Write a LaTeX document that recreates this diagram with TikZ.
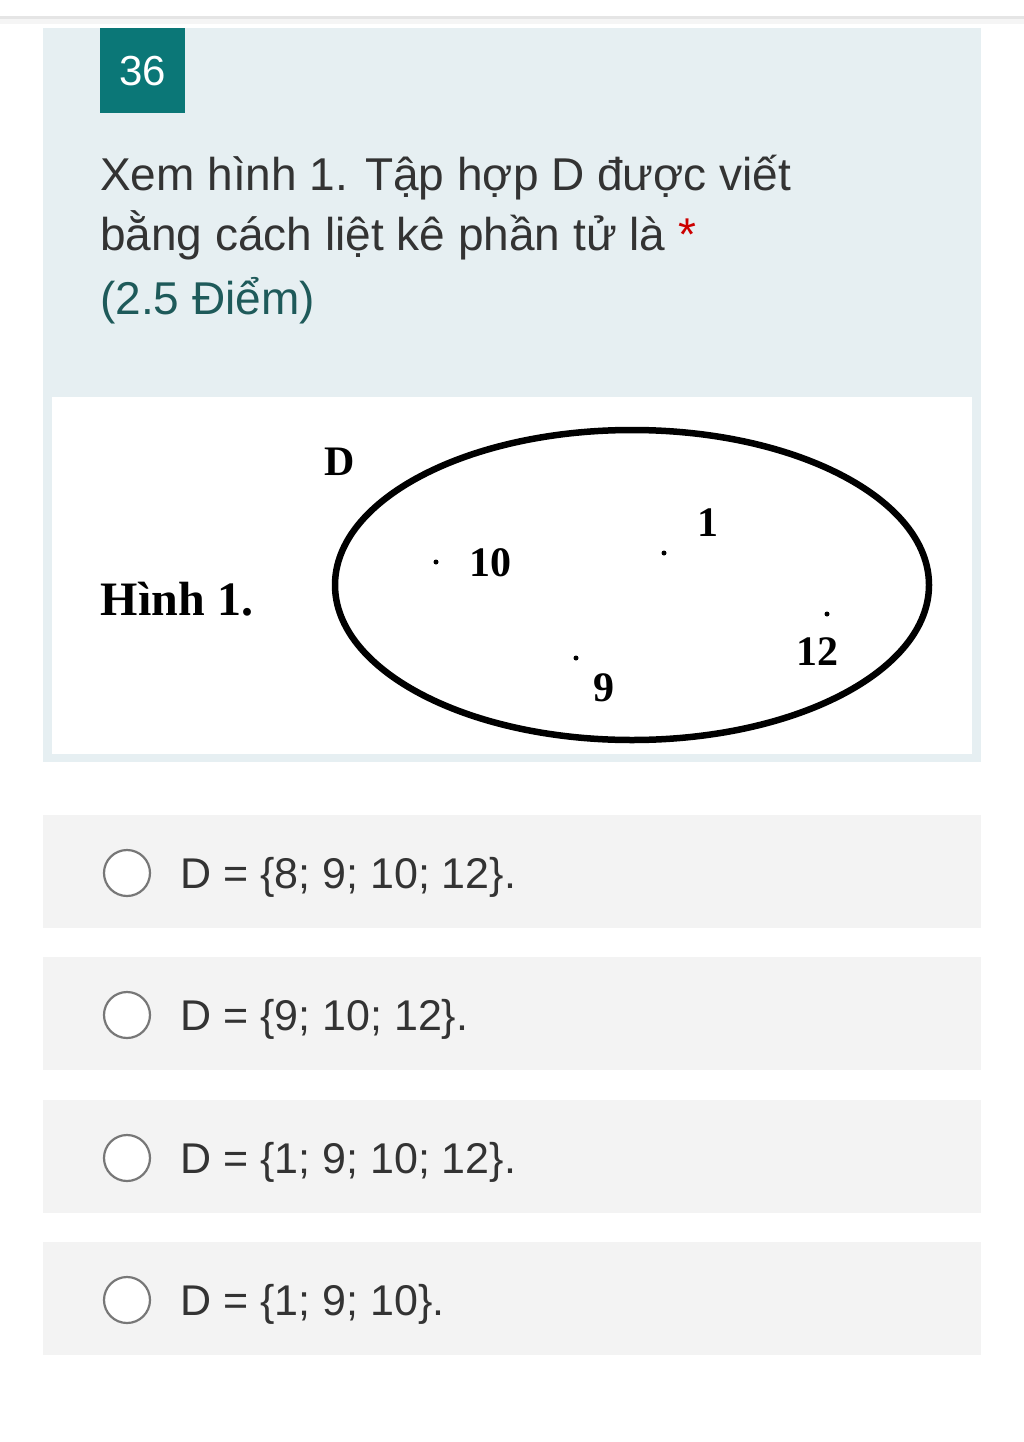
\documentclass[tikz,border=0pt]{standalone}
\usepackage{fontspec}
\setmainfont{Liberation Sans}
\newfontfamily\serifbold{Liberation Serif}
\definecolor{cardbg}{HTML}{E6EFF2}
\definecolor{teal}{HTML}{0B7777}
\definecolor{txt}{HTML}{333333}
\definecolor{pts}{HTML}{1E5A5A}
\definecolor{optbg}{HTML}{F3F3F3}
\definecolor{radio}{HTML}{777777}
\tikzset{
  qtext/.style={anchor=base west, inner sep=0pt, text=txt, font=\fontsize{46}{52}\selectfont},
  opttext/.style={anchor=base west, inner sep=0pt, text=txt, font=\fontsize{43}{48}\selectfont},
  figtext/.style={inner sep=0pt, font=\fontsize{42}{48}\selectfont\serifbold\bfseries},
  radiobtn/.style={circle, draw=radio, line width=2.2pt, fill=white, minimum size=46pt, inner sep=0pt},
  elem/.style={circle, fill=black, minimum size=5pt, inner sep=0pt}
}
\begin{document}
\begin{tikzpicture}[x=1pt,y=-1pt]
\useasboundingbox (0,0) rectangle (1024,1442);
\fill[white] (0,0) rectangle (1024,1442);
% top bar shadow
\fill[black!10] (0,16) rectangle (1024,19);
\fill[black!4] (0,19) rectangle (1024,24);
% question card
\fill[cardbg] (43,28) rectangle (981,762);
\node[fill=teal, minimum width=85pt, minimum height=85pt, anchor=north west, inner sep=0pt,
      text=white, font=\fontsize{42}{46}\selectfont] (num) at (100,28) {36};
\node[qtext] (q1) at (100,190) {Xem hình 1. Tập hợp D được viết};
\node[qtext] (q2) at (100,250) {bằng cách liệt kê phần tử là \textcolor{red!80!black}{*}};
\node[qtext, text=pts] (q3) at (100,314) {(2.5 Điểm)};
% figure area
\fill[white] (52,397) rectangle (972,754);
\draw[line width=6.5pt] (632,585) ellipse [x radius=297, y radius=155];
\node[figtext] (D) at (340,462) {D};
\node[figtext, font=\fontsize{48}{54}\selectfont\serifbold\bfseries] (hinh) at (177,599) {Hình 1.};
\node[elem] (p10) at (436,562) {};
\node[figtext] (l10) at (490,563) {10};
\node[elem] (p1) at (664,553) {};
\node[figtext] (l1) at (708,523) {1};
\node[elem] (p12) at (827,614) {};
\node[figtext] (l12) at (817,652) {12};
\node[elem] (p9) at (576,658) {};
\node[figtext] (l9) at (604,688) {9};
% options
\foreach \y/\t [count=\i] in {815/{D = \{8; 9; 10; 12\}.}, 957/{D = \{9; 10; 12\}.}, 1100/{D = \{1; 9; 10; 12\}.}, 1242/{D = \{1; 9; 10\}.}}{
  \fill[optbg] (43,\y) rectangle (981,\y+113);
  \node[radiobtn] (r\i) at (127,\y+58) {};
  \node[opttext] (o\i) at (180,\y+73) {\t};
}
\end{tikzpicture}
\end{document}
